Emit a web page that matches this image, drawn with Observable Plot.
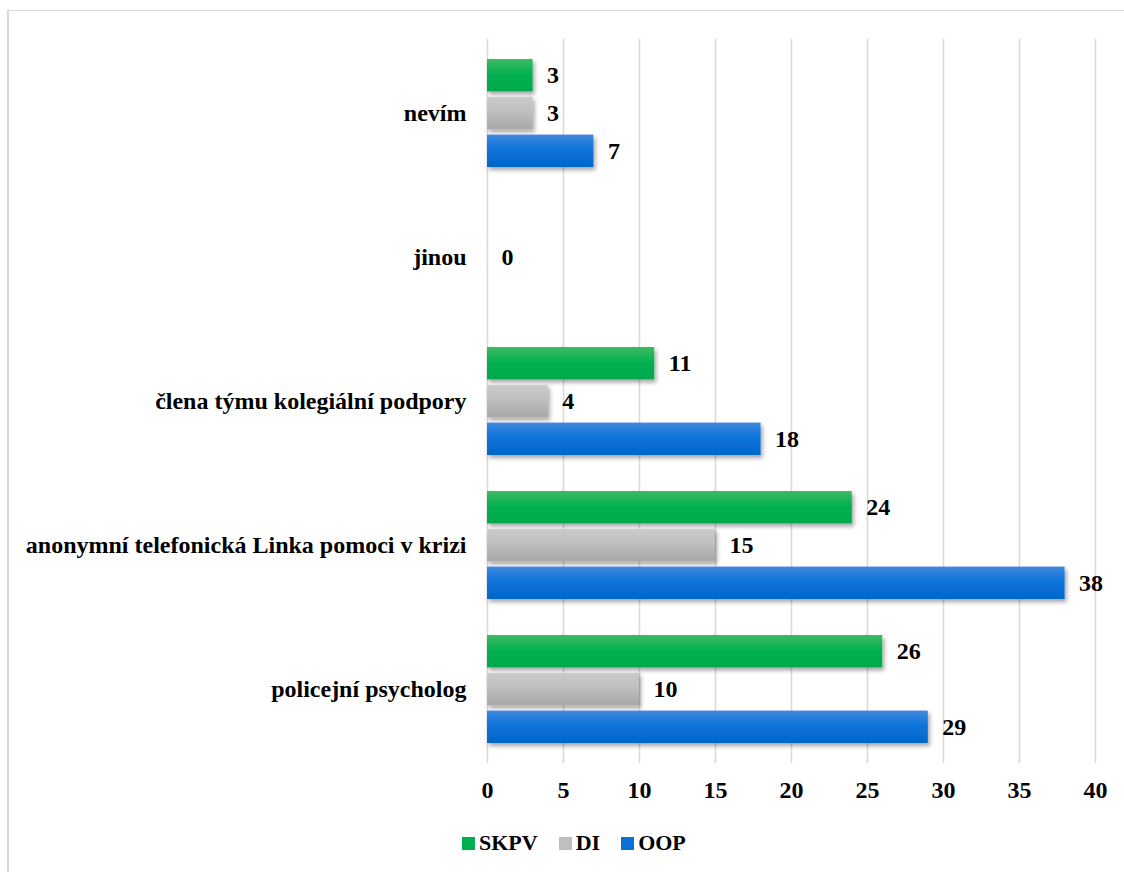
<!DOCTYPE html>
<html>
<head>
<meta charset="utf-8">
<script src="https://cdn.jsdelivr.net/npm/d3@7"></script>
<script src="https://cdn.jsdelivr.net/npm/@observablehq/plot@0.6"></script>
<style>
  html, body { margin: 0; padding: 0; background: #fff; }
  body { width: 1124px; height: 872px; position: relative; overflow: hidden; }
  #frame { position: absolute; left: 7px; top: 10px; width: 1140px; height: 900px;
           border-left: 2px solid #d9d9d9; border-top: 1px solid #d9d9d9; box-sizing: border-box; }
  #chart { position: absolute; left: 0; top: 0; }
  #legend { position: absolute; left: 462px; top: 830px; display: flex; align-items: baseline;
            font-family: "Liberation Serif", "Times New Roman", serif; font-weight: bold; font-size: 22px; color: #000; }
  #legend .item { display: flex; align-items: baseline; margin-right: 21px; }
  #legend .sw { display: inline-block; width: 13px; height: 13px; margin-right: 4px; }
</style>
</head>
<body>
<div id="frame"></div>
<div id="chart"></div>
<div id="legend"></div>
<script>
// Categories, top to bottom
const categories = [
  "nevím",
  "jinou",
  "člena týmu kolegiální podpory",
  "anonymní telefonická Linka pomoci v krizi",
  "policejní psycholog"
];
const seriesNames = ["SKPV", "DI", "OOP"];
const skpvValues = [3, null, 11, 24, 26];
const diValues = [3, 0, 4, 15, 10];
const oopValues = [7, null, 18, 38, 29];
const xTicks = [0, 5, 10, 15, 20, 25, 30, 35, 40];

const seriesValues = { SKPV: skpvValues, DI: diValues, OOP: oopValues };
const seriesColors = {
  SKPV: ["#3dbb62", "#00b050", "#00a84b"],
  DI: ["#cbcbcb", "#bdbdbd", "#a8a8a8"],
  OOP: ["#4189e0", "#0a72d8", "#0467cc"]
};
const legendColors = { SKPV: "#00b050", DI: "#bfbfbf", OOP: "#0a70d6" };

const rows = seriesNames.flatMap(s =>
  categories.map((c, i) => ({ category: c, series: s, value: seriesValues[s][i] }))
).filter(d => d.value !== null);

const width = 1124, height = 810;
const marginTop = 39, marginBottom = 47, marginLeft = 487, marginRight = 29;
const padInner = 0.248, padOuter = 0.124;
const band = (height - marginTop - marginBottom) / categories.length * (1 - padInner);
const barH = 33.3, barStep = (band - barH) / 2;

const font = '"Liberation Serif", "Times New Roman", serif';

const marks = [
  Plot.gridX(xTicks, { stroke: "#d9d9d9", strokeOpacity: 1, strokeWidth: 1.6 })
];
seriesNames.forEach((s, k) => {
  const data = rows.filter(d => d.series === s);
  const top = k * barStep;
  marks.push(
    Plot.barX(data, {
      x: "value", y: "category",
      fill: `url(#grad-${s})`,
      insetTop: top, insetBottom: band - barH - top
    }),
    Plot.text(data, {
      x: "value", y: "category", text: d => String(d.value),
      textAnchor: "start", dx: 14, dy: top + barH / 2 - band / 2,
      fill: "#000", fontWeight: "bold", fontSize: 24
    })
  );
});

const chart = Plot.plot({
  width, height, marginTop, marginBottom, marginLeft, marginRight,
  style: { fontFamily: font, fontSize: "24px", fontWeight: "bold", color: "#000", background: "transparent" },
  x: { domain: [0, 40], ticks: xTicks, axis: "bottom", tickSize: 0, tickPadding: 17, label: null },
  y: { domain: categories, paddingInner: padInner, paddingOuter: padOuter, tickSize: 0, tickPadding: 21, label: null },
  marks
});

// Gradients and soft shadow for the bars
const svg = d3.select(chart);
const defs = svg.insert("defs", ":first-child");
seriesNames.forEach(s => {
  const g = defs.append("linearGradient").attr("id", `grad-${s}`)
    .attr("x1", 0).attr("y1", 0).attr("x2", 0).attr("y2", 1);
  const c = seriesColors[s];
  g.append("stop").attr("offset", "0%").attr("stop-color", c[0]);
  g.append("stop").attr("offset", "50%").attr("stop-color", c[1]);
  g.append("stop").attr("offset", "100%").attr("stop-color", c[2]);
});
const f = defs.append("filter").attr("id", "bar-shadow")
  .attr("x", "-5%").attr("y", "-20%").attr("width", "115%").attr("height", "160%");
f.append("feDropShadow").attr("dx", 2).attr("dy", 3).attr("stdDeviation", 2)
  .attr("flood-color", "#000").attr("flood-opacity", 0.35);
svg.selectAll("rect").filter(function () {
  const fill = this.getAttribute("fill") || (this.parentNode && this.parentNode.getAttribute("fill")) || "";
  return fill.startsWith("url(");
}).attr("filter", "url(#bar-shadow)");

document.getElementById("chart").appendChild(chart);

// Legend
const legend = document.getElementById("legend");
seriesNames.forEach(s => {
  const item = document.createElement("span");
  item.className = "item";
  const sw = document.createElement("span");
  sw.className = "sw";
  sw.style.background = legendColors[s];
  const label = document.createElement("span");
  label.textContent = s;
  item.appendChild(sw);
  item.appendChild(label);
  legend.appendChild(item);
});
</script>
</body>
</html>
